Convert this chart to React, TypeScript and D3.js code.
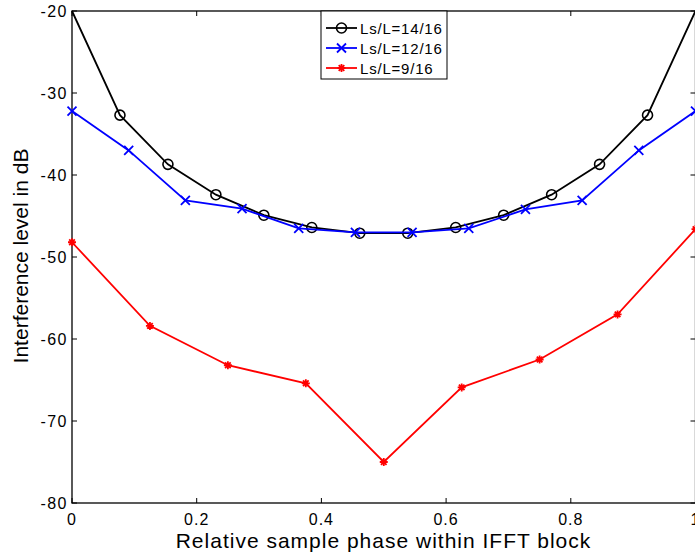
import React, { useEffect, useRef } from 'react';
import * as d3 from 'd3';

// Ls/L = 14/16
const x14 = [0, 1 / 13, 2 / 13, 3 / 13, 4 / 13, 5 / 13, 6 / 13, 7 / 13, 8 / 13, 9 / 13, 10 / 13, 11 / 13, 12 / 13, 1];
const y14 = [-20, -32.7, -38.7, -42.4, -44.9, -46.4, -47.1, -47.1, -46.4, -44.9, -42.4, -38.7, -32.7, -20];
// Ls/L = 12/16
const x12 = [0, 1 / 11, 2 / 11, 3 / 11, 4 / 11, 5 / 11, 6 / 11, 7 / 11, 8 / 11, 9 / 11, 10 / 11, 1];
const y12 = [-32.2, -37.0, -43.1, -44.1, -46.5, -47.0, -47.0, -46.5, -44.2, -43.1, -37.0, -32.2];
// Ls/L = 9/16
const x9 = [0, 0.125, 0.25, 0.375, 0.5, 0.625, 0.75, 0.875, 1];
const y9 = [-48.2, -58.4, -63.2, -65.4, -75.0, -65.9, -62.5, -57.0, -46.6];

const xTicks = [0, 0.2, 0.4, 0.6, 0.8, 1];
const yTicks = [-80, -70, -60, -50, -40, -30, -20];
const legendLabels = ['Ls/L=14/16', 'Ls/L=12/16', 'Ls/L=9/16'];

const FONT = 'Liberation Sans, Arial, Helvetica, sans-serif';

const App = () => {
  const ref = useRef<SVGSVGElement>(null);

  useEffect(() => {
    const svg = d3.select(ref.current);
    svg.selectAll('*').remove();

    const left = 72, right = 695.5, top = 11, bottom = 503;
    const x = d3.scaleLinear().domain([0, 1]).range([left, right]);
    const y = d3.scaleLinear().domain([-80, -20]).range([bottom, top]);

    const g = svg.append('g');

    // ticks inside on all sides
    const tl = 5;
    xTicks.forEach((t) => {
      g.append('line').attr('x1', x(t)).attr('x2', x(t)).attr('y1', bottom).attr('y2', bottom - tl).attr('stroke', '#000');
      g.append('line').attr('x1', x(t)).attr('x2', x(t)).attr('y1', top).attr('y2', top + tl).attr('stroke', '#000');
      g.append('text').attr('x', x(t)).attr('y', 525).attr('text-anchor', 'middle')
        .style('font-family', FONT).style('font-size', '16px').style('letter-spacing', '1px').text(d3.format('~g')(t));
    });
    yTicks.forEach((t) => {
      g.append('line').attr('x1', left).attr('x2', left + tl).attr('y1', y(t)).attr('y2', y(t)).attr('stroke', '#000');
      g.append('line').attr('x1', right).attr('x2', right - tl).attr('y1', y(t)).attr('y2', y(t)).attr('stroke', '#000');
      g.append('text').attr('x', 68).attr('y', y(t) + 6).attr('text-anchor', 'end')
        .style('font-family', FONT).style('font-size', '16px').style('letter-spacing', '1.5px').text(String(t));
    });

    g.append('rect').attr('x', left).attr('y', top).attr('width', right - left).attr('height', bottom - top)
      .attr('fill', 'none').attr('stroke', '#000').attr('stroke-width', 1.3);

    const line = d3.line<[number, number]>().x((d) => x(d[0])).y((d) => y(d[1]));

    const series = [
      { xs: x14, ys: y14, color: '#000', marker: 'o' },
      { xs: x12, ys: y12, color: '#0000ff', marker: 'x' },
      { xs: x9, ys: y9, color: '#ff0000', marker: '*' },
    ];

    const drawMarker = (sel: any, cx: number, cy: number, m: string, color: string) => {
      if (m === 'o') {
        sel.append('circle').attr('cx', cx).attr('cy', cy).attr('r', 5)
          .attr('fill', 'none').attr('stroke', color).attr('stroke-width', 1.6);
      } else if (m === 'x') {
        const s = 4.5;
        sel.append('path').attr('d', `M${cx - s},${cy - s}L${cx + s},${cy + s}M${cx - s},${cy + s}L${cx + s},${cy - s}`)
          .attr('stroke', color).attr('stroke-width', 1.8).attr('fill', 'none');
      } else {
        const s = 4;
        const d = 2.8;
        sel.append('path').attr('d',
          `M${cx - s},${cy}L${cx + s},${cy}M${cx},${cy - s}L${cx},${cy + s}M${cx - d},${cy - d}L${cx + d},${cy + d}M${cx - d},${cy + d}L${cx + d},${cy - d}`)
          .attr('stroke', color).attr('stroke-width', 1.8).attr('fill', 'none');
      }
    };

    series.forEach((s) => {
      const pts: [number, number][] = s.xs.map((v, i) => [v, s.ys[i]]);
      g.append('path').datum(pts).attr('d', line).attr('fill', 'none')
        .attr('stroke', s.color).attr('stroke-width', 1.8);
      // markers sitting on the top edge are clipped away in the original
      pts.filter((p) => p[1] < -20).forEach((p) => drawMarker(g, x(p[0]), y(p[1]), s.marker, s.color));
    });

    // legend
    const lg = g.append('g');
    lg.append('rect').attr('x', 321).attr('y', 11).attr('width', 126).attr('height', 68)
      .attr('fill', '#fff').attr('stroke', '#000').attr('stroke-width', 1);
    legendLabels.forEach((lab, i) => {
      const ly = 28 + i * 20;
      const s = series[i];
      lg.append('line').attr('x1', 326).attr('x2', 357).attr('y1', ly).attr('y2', ly)
        .attr('stroke', s.color).attr('stroke-width', 1.8);
      drawMarker(lg, 341.5, ly, s.marker, s.color);
      lg.append('text').attr('x', 360).attr('y', ly + 5.5)
        .style('font-family', FONT).style('font-size', '15px').style('letter-spacing', '0.8px').text(lab);
    });

    // axis labels
    g.append('text').attr('x', 383.5).attr('y', 548).attr('text-anchor', 'middle')
      .style('font-family', FONT).style('font-size', '21px').style('letter-spacing', '1px')
      .text('Relative sample phase within IFFT block');
    g.append('text').attr('transform', 'rotate(-90)').attr('x', -256).attr('y', 28).attr('text-anchor', 'middle')
      .style('font-family', FONT).style('font-size', '21px').text('Interference level in dB');
  }, []);

  return <svg ref={ref} width={695} height={557} style={{ position: 'absolute', left: 0, top: 0, background: '#fff' }}></svg>;
};

export default App;
